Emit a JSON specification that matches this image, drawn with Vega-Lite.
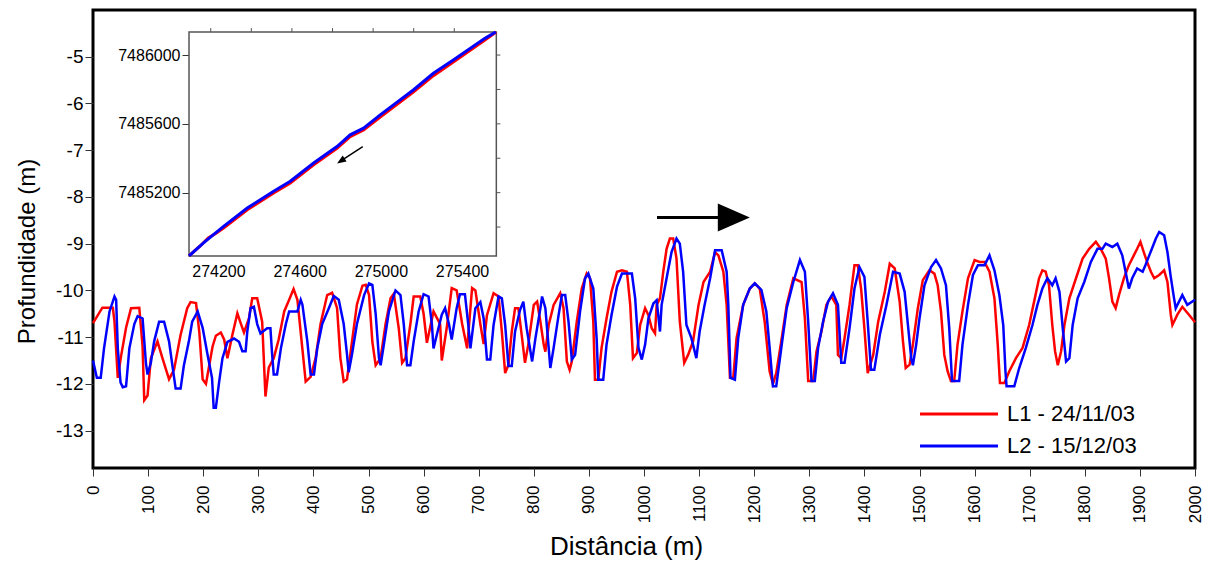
{
  "$schema": "https://vega.github.io/schema/vega-lite/v6.json",
  "width": 1102,
  "height": 458,
  "autosize": "none",
  "padding": {"left": 93, "top": 10, "right": 27, "bottom": 96},
  "background": "white",
  "config": {
    "view": {"stroke": "black", "strokeWidth": 3},
    "font": "Liberation Sans",
    "axis": {"labelFont": "Liberation Sans", "titleFont": "Liberation Sans", "labelColor": "#000", "titleColor": "#000", "tickColor": "#333", "domain": false, "grid": false, "titleFontWeight": "normal"},
    "legend": {"labelFont": "Liberation Sans"}
  },
  "datasets": {
    "l1": [
      {"x":0,"y":-10.7},{"x":17,"y":-10.37},{"x":36,"y":-10.37},{"x":39,"y":-10.67},{"x":45,"y":-11.87},{"x":51,"y":-11.4},{"x":60,"y":-10.8},{"x":69,"y":-10.38},{"x":84,"y":-10.37},{"x":90,"y":-11.2},{"x":93,"y":-12.35},{"x":99,"y":-12.25},{"x":105,"y":-11.45},{"x":117,"y":-11.09},{"x":126,"y":-11.45},{"x":138,"y":-11.9},{"x":147,"y":-11.7},{"x":159,"y":-10.95},{"x":171,"y":-10.38},{"x":177,"y":-10.25},{"x":187,"y":-10.27},{"x":193,"y":-10.9},{"x":199,"y":-11.9},{"x":205,"y":-12.0},{"x":211,"y":-11.6},{"x":217,"y":-11.2},{"x":223,"y":-10.97},{"x":232,"y":-10.9},{"x":238,"y":-11.05},{"x":244,"y":-11.45},{"x":253,"y":-10.95},{"x":262,"y":-10.49},{"x":268,"y":-10.7},{"x":274,"y":-10.9},{"x":283,"y":-10.6},{"x":289,"y":-10.17},{"x":298,"y":-10.17},{"x":307,"y":-10.67},{"x":313,"y":-12.27},{"x":319,"y":-11.65},{"x":328,"y":-11.45},{"x":337,"y":-11.05},{"x":347,"y":-10.45},{"x":356,"y":-10.2},{"x":364,"y":-9.97},{"x":371,"y":-10.2},{"x":380,"y":-11.25},{"x":386,"y":-11.95},{"x":395,"y":-11.85},{"x":404,"y":-11.45},{"x":413,"y":-10.72},{"x":425,"y":-10.1},{"x":434,"y":-10.05},{"x":443,"y":-10.38},{"x":449,"y":-11.45},{"x":455,"y":-11.95},{"x":461,"y":-11.9},{"x":470,"y":-11.1},{"x":479,"y":-10.3},{"x":489,"y":-9.9},{"x":495,"y":-9.88},{"x":501,"y":-10.1},{"x":507,"y":-11.1},{"x":513,"y":-11.6},{"x":522,"y":-11.45},{"x":531,"y":-10.72},{"x":540,"y":-10.17},{"x":546,"y":-10.07},{"x":555,"y":-10.82},{"x":561,"y":-11.55},{"x":567,"y":-11.45},{"x":576,"y":-10.72},{"x":582,"y":-10.13},{"x":594,"y":-10.13},{"x":600,"y":-10.5},{"x":606,"y":-11.12},{"x":618,"y":-10.45},{"x":630,"y":-10.72},{"x":633,"y":-11.5},{"x":642,"y":-10.8},{"x":651,"y":-9.95},{"x":660,"y":-10.0},{"x":670,"y":-10.72},{"x":679,"y":-11.24},{"x":688,"y":-9.95},{"x":694,"y":-10.0},{"x":703,"y":-10.72},{"x":709,"y":-11.15},{"x":715,"y":-10.53},{"x":727,"y":-10.06},{"x":736,"y":-10.13},{"x":742,"y":-10.88},{"x":748,"y":-11.77},{"x":754,"y":-11.59},{"x":760,"y":-10.88},{"x":766,"y":-10.38},{"x":772,"y":-10.38},{"x":778,"y":-10.95},{"x":784,"y":-11.55},{"x":790,"y":-11.16},{"x":800,"y":-10.31},{"x":806,"y":-10.24},{"x":812,"y":-10.67},{"x":818,"y":-11.16},{"x":821,"y":-11.31},{"x":827,"y":-10.74},{"x":836,"y":-10.31},{"x":848,"y":-10.06},{"x":854,"y":-10.38},{"x":860,"y":-11.52},{"x":865,"y":-11.7},{"x":869,"y":-11.52},{"x":878,"y":-10.67},{"x":887,"y":-9.96},{"x":896,"y":-9.64},{"x":902,"y":-9.74},{"x":908,"y":-10.67},{"x":911,"y":-11.91},{"x":917,"y":-11.91},{"x":923,"y":-11.23},{"x":932,"y":-10.6},{"x":941,"y":-10.03},{"x":951,"y":-9.6},{"x":960,"y":-9.57},{"x":969,"y":-9.6},{"x":975,"y":-10.31},{"x":980,"y":-11.45},{"x":987,"y":-11.34},{"x":993,"y":-10.74},{"x":1002,"y":-10.38},{"x":1008,"y":-10.53},{"x":1014,"y":-10.81},{"x":1020,"y":-10.92},{"x":1023,"y":-10.31},{"x":1029,"y":-10.17},{"x":1035,"y":-9.6},{"x":1041,"y":-9.11},{"x":1047,"y":-8.89},{"x":1053,"y":-8.89},{"x":1059,"y":-9.32},{"x":1065,"y":-10.67},{"x":1073,"y":-11.55},{"x":1080,"y":-11.38},{"x":1089,"y":-11.09},{"x":1099,"y":-10.31},{"x":1108,"y":-9.82},{"x":1120,"y":-9.6},{"x":1129,"y":-9.18},{"x":1135,"y":-9.25},{"x":1144,"y":-9.6},{"x":1150,"y":-10.31},{"x":1156,"y":-11.87},{"x":1162,"y":-11.87},{"x":1168,"y":-11.02},{"x":1180,"y":-10.31},{"x":1192,"y":-9.96},{"x":1201,"y":-9.85},{"x":1210,"y":-9.96},{"x":1219,"y":-10.67},{"x":1228,"y":-11.73},{"x":1234,"y":-12.0},{"x":1240,"y":-11.77},{"x":1250,"y":-11.02},{"x":1259,"y":-10.31},{"x":1271,"y":-9.74},{"x":1286,"y":-9.82},{"x":1292,"y":-10.6},{"x":1298,"y":-11.94},{"x":1307,"y":-11.94},{"x":1313,"y":-11.31},{"x":1322,"y":-10.88},{"x":1331,"y":-10.31},{"x":1340,"y":-10.13},{"x":1349,"y":-10.31},{"x":1352,"y":-11.38},{"x":1358,"y":-11.45},{"x":1364,"y":-11.02},{"x":1373,"y":-10.31},{"x":1382,"y":-9.46},{"x":1388,"y":-9.46},{"x":1394,"y":-9.96},{"x":1400,"y":-10.81},{"x":1406,"y":-11.77},{"x":1416,"y":-11.38},{"x":1425,"y":-10.67},{"x":1437,"y":-10.03},{"x":1446,"y":-9.43},{"x":1455,"y":-9.53},{"x":1464,"y":-10.24},{"x":1470,"y":-11.09},{"x":1475,"y":-11.66},{"x":1482,"y":-11.59},{"x":1488,"y":-11.16},{"x":1497,"y":-10.38},{"x":1506,"y":-9.78},{"x":1518,"y":-9.57},{"x":1527,"y":-9.64},{"x":1533,"y":-9.89},{"x":1539,"y":-10.45},{"x":1545,"y":-11.38},{"x":1551,"y":-11.73},{"x":1557,"y":-11.94},{"x":1563,"y":-11.94},{"x":1569,"y":-11.16},{"x":1578,"y":-10.45},{"x":1588,"y":-9.74},{"x":1600,"y":-9.35},{"x":1609,"y":-9.39},{"x":1618,"y":-9.39},{"x":1627,"y":-9.6},{"x":1636,"y":-10.17},{"x":1642,"y":-11.16},{"x":1646,"y":-11.98},{"x":1654,"y":-11.98},{"x":1663,"y":-11.73},{"x":1675,"y":-11.45},{"x":1687,"y":-11.23},{"x":1699,"y":-10.74},{"x":1708,"y":-10.24},{"x":1717,"y":-9.74},{"x":1723,"y":-9.57},{"x":1729,"y":-9.6},{"x":1735,"y":-9.89},{"x":1741,"y":-10.74},{"x":1746,"y":-11.3},{"x":1751,"y":-11.6},{"x":1757,"y":-11.3},{"x":1763,"y":-10.74},{"x":1772,"y":-10.17},{"x":1784,"y":-9.74},{"x":1796,"y":-9.32},{"x":1808,"y":-9.11},{"x":1820,"y":-8.96},{"x":1829,"y":-9.11},{"x":1838,"y":-9.32},{"x":1844,"y":-9.74},{"x":1850,"y":-10.24},{"x":1856,"y":-10.38},{"x":1862,"y":-10.1},{"x":1871,"y":-9.74},{"x":1880,"y":-9.46},{"x":1889,"y":-9.25},{"x":1895,"y":-9.11},{"x":1901,"y":-8.96},{"x":1907,"y":-9.18},{"x":1913,"y":-9.39},{"x":1920,"y":-9.6},{"x":1926,"y":-9.74},{"x":1935,"y":-9.67},{"x":1944,"y":-9.57},{"x":1950,"y":-9.82},{"x":1956,"y":-10.52},{"x":1959,"y":-10.74},{"x":1968,"y":-10.52},{"x":1977,"y":-10.35},{"x":1989,"y":-10.52},{"x":2000,"y":-10.68}
    ],
    "l2": [
      {"x":0,"y":-11.5},{"x":7,"y":-11.87},{"x":14,"y":-11.87},{"x":20,"y":-11.24},{"x":30,"y":-10.45},{"x":39,"y":-10.13},{"x":42,"y":-10.2},{"x":45,"y":-11.24},{"x":50,"y":-11.97},{"x":54,"y":-12.07},{"x":60,"y":-12.05},{"x":66,"y":-11.24},{"x":75,"y":-10.72},{"x":81,"y":-10.55},{"x":90,"y":-10.6},{"x":96,"y":-11.55},{"x":99,"y":-11.8},{"x":105,"y":-11.55},{"x":111,"y":-11.09},{"x":120,"y":-10.67},{"x":129,"y":-10.67},{"x":138,"y":-11.09},{"x":144,"y":-11.6},{"x":150,"y":-12.1},{"x":159,"y":-12.1},{"x":165,"y":-11.6},{"x":174,"y":-11.09},{"x":180,"y":-10.67},{"x":190,"y":-10.45},{"x":199,"y":-10.8},{"x":208,"y":-11.38},{"x":216,"y":-11.87},{"x":219,"y":-12.51},{"x":223,"y":-12.51},{"x":229,"y":-11.95},{"x":235,"y":-11.45},{"x":244,"y":-11.1},{"x":256,"y":-11.03},{"x":265,"y":-11.1},{"x":271,"y":-11.3},{"x":277,"y":-11.3},{"x":280,"y":-10.88},{"x":286,"y":-10.38},{"x":292,"y":-10.35},{"x":298,"y":-10.72},{"x":304,"y":-10.92},{"x":316,"y":-10.81},{"x":322,"y":-10.81},{"x":325,"y":-11.35},{"x":328,"y":-11.8},{"x":334,"y":-11.8},{"x":341,"y":-11.24},{"x":350,"y":-10.72},{"x":356,"y":-10.45},{"x":371,"y":-10.45},{"x":377,"y":-10.2},{"x":380,"y":-10.3},{"x":389,"y":-11.09},{"x":395,"y":-11.8},{"x":401,"y":-11.8},{"x":407,"y":-11.24},{"x":416,"y":-10.72},{"x":428,"y":-10.38},{"x":437,"y":-10.12},{"x":446,"y":-10.2},{"x":455,"y":-10.72},{"x":461,"y":-11.37},{"x":464,"y":-11.75},{"x":470,"y":-11.37},{"x":479,"y":-10.72},{"x":492,"y":-10.1},{"x":501,"y":-9.85},{"x":507,"y":-9.88},{"x":513,"y":-10.5},{"x":519,"y":-11.45},{"x":522,"y":-11.6},{"x":528,"y":-11.15},{"x":537,"y":-10.45},{"x":549,"y":-10.0},{"x":558,"y":-10.1},{"x":564,"y":-10.72},{"x":570,"y":-11.6},{"x":576,"y":-11.6},{"x":582,"y":-11.09},{"x":591,"y":-10.45},{"x":600,"y":-10.08},{"x":609,"y":-10.13},{"x":615,"y":-10.72},{"x":618,"y":-11.24},{"x":624,"y":-10.95},{"x":633,"y":-10.52},{"x":639,"y":-10.38},{"x":646,"y":-10.72},{"x":651,"y":-11.05},{"x":660,"y":-10.38},{"x":666,"y":-10.08},{"x":675,"y":-10.08},{"x":681,"y":-10.72},{"x":685,"y":-11.24},{"x":694,"y":-10.38},{"x":703,"y":-10.25},{"x":709,"y":-10.6},{"x":715,"y":-11.48},{"x":721,"y":-11.48},{"x":727,"y":-10.74},{"x":736,"y":-10.13},{"x":742,"y":-10.17},{"x":748,"y":-10.74},{"x":754,"y":-11.62},{"x":760,"y":-11.62},{"x":766,"y":-10.88},{"x":775,"y":-10.42},{"x":781,"y":-10.24},{"x":787,"y":-10.81},{"x":797,"y":-11.52},{"x":803,"y":-11.02},{"x":812,"y":-10.38},{"x":815,"y":-10.13},{"x":821,"y":-10.38},{"x":827,"y":-11.23},{"x":830,"y":-11.66},{"x":836,"y":-11.23},{"x":845,"y":-10.53},{"x":851,"y":-10.1},{"x":857,"y":-10.1},{"x":863,"y":-10.67},{"x":869,"y":-11.48},{"x":875,"y":-11.38},{"x":884,"y":-10.45},{"x":893,"y":-9.74},{"x":899,"y":-9.64},{"x":908,"y":-9.96},{"x":914,"y":-11.02},{"x":917,"y":-11.91},{"x":926,"y":-11.91},{"x":932,"y":-11.16},{"x":941,"y":-10.53},{"x":951,"y":-9.92},{"x":960,"y":-9.64},{"x":978,"y":-9.64},{"x":984,"y":-10.17},{"x":990,"y":-11.23},{"x":996,"y":-11.48},{"x":1002,"y":-11.16},{"x":1008,"y":-10.6},{"x":1017,"y":-10.28},{"x":1023,"y":-10.21},{"x":1029,"y":-10.88},{"x":1032,"y":-10.31},{"x":1041,"y":-9.74},{"x":1050,"y":-9.18},{"x":1059,"y":-8.89},{"x":1065,"y":-9.0},{"x":1071,"y":-9.6},{"x":1077,"y":-10.74},{"x":1086,"y":-11.02},{"x":1095,"y":-11.45},{"x":1101,"y":-10.88},{"x":1110,"y":-10.31},{"x":1120,"y":-9.74},{"x":1129,"y":-9.14},{"x":1141,"y":-9.14},{"x":1150,"y":-9.6},{"x":1153,"y":-10.31},{"x":1157,"y":-11.87},{"x":1165,"y":-11.91},{"x":1171,"y":-11.02},{"x":1180,"y":-10.31},{"x":1192,"y":-9.96},{"x":1201,"y":-9.85},{"x":1213,"y":-9.99},{"x":1222,"y":-10.45},{"x":1228,"y":-11.23},{"x":1234,"y":-12.05},{"x":1240,"y":-12.05},{"x":1250,"y":-11.16},{"x":1259,"y":-10.38},{"x":1271,"y":-9.82},{"x":1283,"y":-9.35},{"x":1292,"y":-9.6},{"x":1298,"y":-10.67},{"x":1304,"y":-11.94},{"x":1310,"y":-11.94},{"x":1316,"y":-11.23},{"x":1325,"y":-10.67},{"x":1334,"y":-10.24},{"x":1343,"y":-10.06},{"x":1352,"y":-10.31},{"x":1358,"y":-11.55},{"x":1364,"y":-11.55},{"x":1373,"y":-10.81},{"x":1382,"y":-9.96},{"x":1391,"y":-9.5},{"x":1400,"y":-9.71},{"x":1406,"y":-10.67},{"x":1412,"y":-11.7},{"x":1418,"y":-11.7},{"x":1428,"y":-10.95},{"x":1440,"y":-10.31},{"x":1452,"y":-9.6},{"x":1464,"y":-9.64},{"x":1473,"y":-10.03},{"x":1479,"y":-10.74},{"x":1485,"y":-11.45},{"x":1488,"y":-11.6},{"x":1494,"y":-11.16},{"x":1500,"y":-10.6},{"x":1509,"y":-9.89},{"x":1521,"y":-9.5},{"x":1530,"y":-9.35},{"x":1539,"y":-9.53},{"x":1548,"y":-9.89},{"x":1554,"y":-10.81},{"x":1559,"y":-11.94},{"x":1572,"y":-11.94},{"x":1578,"y":-11.16},{"x":1588,"y":-10.31},{"x":1597,"y":-9.67},{"x":1606,"y":-9.46},{"x":1618,"y":-9.46},{"x":1627,"y":-9.25},{"x":1636,"y":-9.57},{"x":1645,"y":-10.1},{"x":1652,"y":-10.74},{"x":1656,"y":-11.73},{"x":1658,"y":-12.05},{"x":1672,"y":-12.05},{"x":1681,"y":-11.66},{"x":1693,"y":-11.23},{"x":1705,"y":-10.74},{"x":1714,"y":-10.31},{"x":1723,"y":-9.96},{"x":1732,"y":-9.74},{"x":1741,"y":-9.89},{"x":1747,"y":-9.74},{"x":1754,"y":-10.03},{"x":1760,"y":-10.81},{"x":1766,"y":-11.52},{"x":1772,"y":-11.45},{"x":1778,"y":-10.74},{"x":1787,"y":-10.17},{"x":1799,"y":-9.82},{"x":1811,"y":-9.39},{"x":1823,"y":-9.11},{"x":1832,"y":-9.11},{"x":1838,"y":-9.0},{"x":1850,"y":-9.07},{"x":1859,"y":-9.0},{"x":1868,"y":-9.25},{"x":1874,"y":-9.6},{"x":1880,"y":-9.96},{"x":1886,"y":-9.74},{"x":1895,"y":-9.53},{"x":1905,"y":-9.6},{"x":1910,"y":-9.46},{"x":1917,"y":-9.25},{"x":1923,"y":-9.07},{"x":1929,"y":-8.89},{"x":1935,"y":-8.75},{"x":1944,"y":-8.82},{"x":1950,"y":-9.18},{"x":1956,"y":-9.71},{"x":1962,"y":-10.17},{"x":1965,"y":-10.38},{"x":1971,"y":-10.24},{"x":1977,"y":-10.1},{"x":1986,"y":-10.31},{"x":2000,"y":-10.2}
    ],
    "i1": [
      {"e":274055,"n":7484832},{"e":274110,"n":7484890},{"e":274150,"n":7484937},{"e":274190,"n":7484965},{"e":274230,"n":7484998},{"e":274342,"n":7485100},{"e":274472,"n":7485198},{"e":274554,"n":7485256},{"e":274669,"n":7485362},{"e":274784,"n":7485458},{"e":274849,"n":7485526},{"e":274915,"n":7485565},{"e":274997,"n":7485640},{"e":275160,"n":7485785},{"e":275259,"n":7485880},{"e":275357,"n":7485960},{"e":275513,"n":7486088},{"e":275568,"n":7486134}
    ],
    "i2": [
      {"e":274055,"n":7484832},{"e":274128,"n":7484909},{"e":274177,"n":7484957},{"e":274227,"n":7485005},{"e":274342,"n":7485111},{"e":274472,"n":7485208},{"e":274554,"n":7485266},{"e":274669,"n":7485372},{"e":274784,"n":7485468},{"e":274849,"n":7485536},{"e":274915,"n":7485575},{"e":274997,"n":7485652},{"e":275160,"n":7485797},{"e":275259,"n":7485894},{"e":275357,"n":7485971},{"e":275513,"n":7486097},{"e":275566,"n":7486134}
    ]
  },
  "layer": [
    {
      "layer": [
        {
          "data": {"name": "l1"},
          "mark": {"type": "line", "strokeWidth": 2.5, "interpolate": "linear"},
          "encoding": {
            "x": {"field": "x", "type": "quantitative", "scale": {"domain": [0, 2000], "nice": false, "zero": false},
              "axis": {"orient": "bottom", "values": [0,100,200,300,400,500,600,700,800,900,1000,1100,1200,1300,1400,1500,1600,1700,1800,1900,2000], "format": "d", "labelAngle": -90, "labelFontSize": 17, "tickSize": 8, "labelPadding": 9, "title": "Distância (m)", "titleFontSize": 26, "titlePadding": 11, "titleX": 533}},
            "y": {"field": "y", "type": "quantitative", "scale": {"domain": [-13.8, -4], "nice": false, "zero": false},
              "axis": {"orient": "left", "values": [-13,-12,-11,-10,-9,-8,-7,-6,-5], "labelExpr": "'' + datum.value", "labelFontSize": 19, "tickSize": 8, "labelPadding": 2, "title": "Profundidade (m)", "titleFontSize": 24, "titlePadding": 16, "titleY": 241}},
            "color": {"datum": "L1 - 24/11/03", "type": "nominal",
              "scale": {"domain": ["L1 - 24/11/03", "L2 - 15/12/03"], "range": ["#ff0000", "#0000ff"]},
              "legend": {"orient": "none", "legendX": 821, "legendY": 393, "title": null, "symbolType": "M-8,0H8", "symbolSize": 95, "symbolStrokeWidth": 3, "symbolOffset": 34, "labelFontSize": 22, "labelOffset": 37, "rowPadding": 10, "padding": 0, "labelColor": "#000"}}
          }
        },
        {
          "data": {"name": "l2"},
          "mark": {"type": "line", "strokeWidth": 2.5, "interpolate": "linear"},
          "encoding": {
            "x": {"field": "x", "type": "quantitative"},
            "y": {"field": "y", "type": "quantitative"},
            "color": {"datum": "L2 - 15/12/03", "type": "nominal"}
          }
        },
        {
          "data": {"values": [{"x": 1023.6, "xb": 1140, "y": -8.44}]},
          "mark": {"type": "rule", "color": "black", "strokeWidth": 3},
          "encoding": {
            "x": {"field": "x", "type": "quantitative"},
            "x2": {"field": "xb"},
            "y": {"field": "y", "type": "quantitative"}
          }
        },
        {
          "data": {"values": [{"x": 1163, "y": -8.44}]},
          "mark": {"type": "point", "shape": "M1,0L-1,-0.875L-1,0.875Z", "filled": true, "color": "black", "opacity": 1, "size": 1024},
          "encoding": {
            "x": {"field": "x", "type": "quantitative"},
            "y": {"field": "y", "type": "quantitative"}
          }
        }
      ]
    },
    {
      "layer": [
        {
          "data": {"values": [{"e": 274055, "e2": 275569, "n": 7484832, "n2": 7486134}]},
          "mark": {"type": "rect", "fill": "white", "stroke": "#555", "strokeWidth": 1.5},
          "encoding": {
            "x": {"field": "e", "type": "quantitative", "scale": {"domain": [273582, 279011], "nice": false, "zero": false},
              "axis": {"orient": "bottom", "offset": -212, "values": [274200, 274600, 275000, 275400], "format": "d", "tickSize": 0, "labelPadding": 7, "labelFontSize": 16, "title": null}},
            "x2": {"field": "e2"},
            "y": {"field": "n", "type": "quantitative", "scale": {"domain": [7483599, 7486262], "nice": false, "zero": false},
              "axis": {"orient": "left", "offset": -96, "values": [7485200, 7485600, 7486000], "format": "d", "tickSize": 7, "labelPadding": 2, "labelFontSize": 16, "title": null}},
            "y2": {"field": "n2"}
          }
        },
        {
          "data": {"values": [{"e": 274162, "n": 7486134, "n2": 7486157}, {"e": 274362, "n": 7486134, "n2": 7486157}, {"e": 274562, "n": 7486134, "n2": 7486157}, {"e": 274762, "n": 7486134, "n2": 7486157}, {"e": 274962, "n": 7486134, "n2": 7486157}, {"e": 275162, "n": 7486134, "n2": 7486157}, {"e": 275362, "n": 7486134, "n2": 7486157}]},
          "mark": {"type": "rule", "color": "#555", "strokeWidth": 1},
          "encoding": {
            "x": {"field": "e", "type": "quantitative"},
            "y": {"field": "n", "type": "quantitative"},
            "y2": {"field": "n2"}
          }
        },
        {
          "data": {"values": [{"n": 7485000, "e": 275569, "e2": 275589}, {"n": 7485200, "e": 275569, "e2": 275589}, {"n": 7485400, "e": 275569, "e2": 275589}, {"n": 7485600, "e": 275569, "e2": 275589}, {"n": 7485800, "e": 275569, "e2": 275589}, {"n": 7486000, "e": 275569, "e2": 275589}]},
          "mark": {"type": "rule", "color": "#555", "strokeWidth": 1},
          "encoding": {
            "y": {"field": "n", "type": "quantitative"},
            "x": {"field": "e", "type": "quantitative"},
            "x2": {"field": "e2"}
          }
        },
        {
          "data": {"name": "i1"},
          "mark": {"type": "line", "color": "#ff0000", "strokeWidth": 3},
          "encoding": {
            "x": {"field": "e", "type": "quantitative"},
            "y": {"field": "n", "type": "quantitative"}
          }
        },
        {
          "data": {"name": "i2"},
          "mark": {"type": "line", "color": "#0000ff", "strokeWidth": 3},
          "encoding": {
            "x": {"field": "e", "type": "quantitative"},
            "y": {"field": "n", "type": "quantitative"}
          }
        },
        {
          "data": {"values": [{"e": 274911, "e2": 274807, "n": 7485467, "n2": 7485387}]},
          "mark": {"type": "rule", "color": "black", "strokeWidth": 1.5},
          "encoding": {
            "x": {"field": "e", "type": "quantitative"},
            "x2": {"field": "e2"},
            "y": {"field": "n", "type": "quantitative"},
            "y2": {"field": "n2"}
          }
        },
        {
          "data": {"values": [{"e": 274803, "n": 7485384}]},
          "mark": {"type": "point", "shape": "M1,0L-1,-0.8L-1,0.8Z", "filled": true, "color": "black", "opacity": 1, "size": 81, "angle": 147},
          "encoding": {
            "x": {"field": "e", "type": "quantitative"},
            "y": {"field": "n", "type": "quantitative"}
          }
        }
      ]
    }
  ],
  "resolve": {"scale": {"x": "independent", "y": "independent"}, "axis": {"x": "independent", "y": "independent"}}
}
